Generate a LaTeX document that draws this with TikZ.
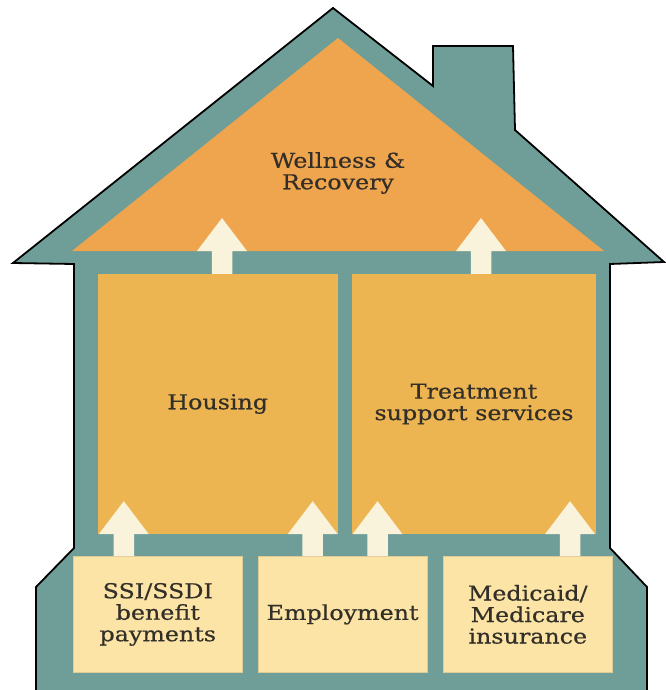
\documentclass[tikz,border=0pt]{standalone}
\usepackage{fontspec}
\setmainfont{DejaVu Serif}[FakeStretch=1.16,FakeBold=0.5]
\usetikzlibrary{calc}
\definecolor{houseteal}{RGB}{111,158,152}
\definecolor{roofcol}{RGB}{239,164,78}
\definecolor{upcol}{RGB}{237,181,82}
\definecolor{lowcol}{RGB}{251,228,166}
\definecolor{lowedge}{RGB}{222,204,150}
\definecolor{arrowcol}{RGB}{250,243,220}
\definecolor{txtcol}{RGB}{50,46,40}
\newcommand\blockarrow[3]{%
  \path (#1,0) coordinate (arX);
  \coordinate (arS) at (arX |- #2);
  \coordinate (arT) at (arX |- #3);
  \fill[arrowcol] ($(arS)+(-10.25,0)$) -- ($(arT)+(-10.25,0)$) -- ($(arT)+(-25,0)$)
    -- ($(arT)+(0,-33)$) -- ($(arT)+(25,0)$) -- ($(arT)+(10.25,0)$) -- ($(arS)+(10.25,0)$) -- cycle;}
\begin{document}
\begin{tikzpicture}[x=1pt,y=-1pt,
  lbl/.style={font=\fontsize{20.5}{21.5}\selectfont, text=txtcol, align=center},
  upbox/.style={fill=upcol, inner sep=0pt, minimum width=#1, minimum height=260pt, lbl},
  lowbox/.style={fill=lowcol, draw=lowedge, line width=0.8pt, inner sep=0pt, minimum width=169pt, minimum height=116pt, lbl},
  outline/.style={draw=black, line width=1.8pt, line join=miter}]
\useasboundingbox (0,0) rectangle (665,690);
% house body
\fill[houseteal] (36,690) -- (36,587) -- (74,548) -- (74,264) -- (13,263) -- (333,8)
  -- (433,86) -- (433,46) -- (513,46) -- (515,130) -- (664,262) -- (610,264)
  -- (610,548) -- (647,587) -- (647,690) -- cycle;
\draw[outline] (36,690) -- (36,587) -- (74,548) -- (74,264) -- (13,263) -- (333,8)
  -- (433,86) -- (433,46) -- (513,46) -- (515,130) -- (664,262) -- (610,264)
  -- (610,548) -- (647,587) -- (647,690);
% roof
\fill[roofcol] (338,38) -- (604,251) -- (72,251) -- cycle;
\coordinate (roofbase) at (338,251);
\node[lbl] (wellness) at (338,173) {Wellness \&\\Recovery};
% upper boxes
\node[upbox=240.5pt] (housing) at (217.75,404) {Housing};
\node[upbox=244pt] (treat) at (474,404) {Treatment\\support services};
% lower boxes
\node[lowbox] (ssi) at (157.8,614.4) {SSI/SSDI\\benefit\\payments};
\node[lowbox] (emp) at (342.6,614.4) {Employment};
\node[lowbox] (med) at (527.8,614.4) {Medicaid/\\Medicare\\insurance};
% arrows
\blockarrow{222}{housing.north}{roofbase}
\blockarrow{481}{treat.north}{roofbase}
\blockarrow{123.8}{ssi.north}{housing.south}
\blockarrow{312.7}{emp.north}{housing.south}
\blockarrow{377.5}{emp.north}{treat.south}
\blockarrow{570}{med.north}{treat.south}
\end{tikzpicture}
\end{document}
